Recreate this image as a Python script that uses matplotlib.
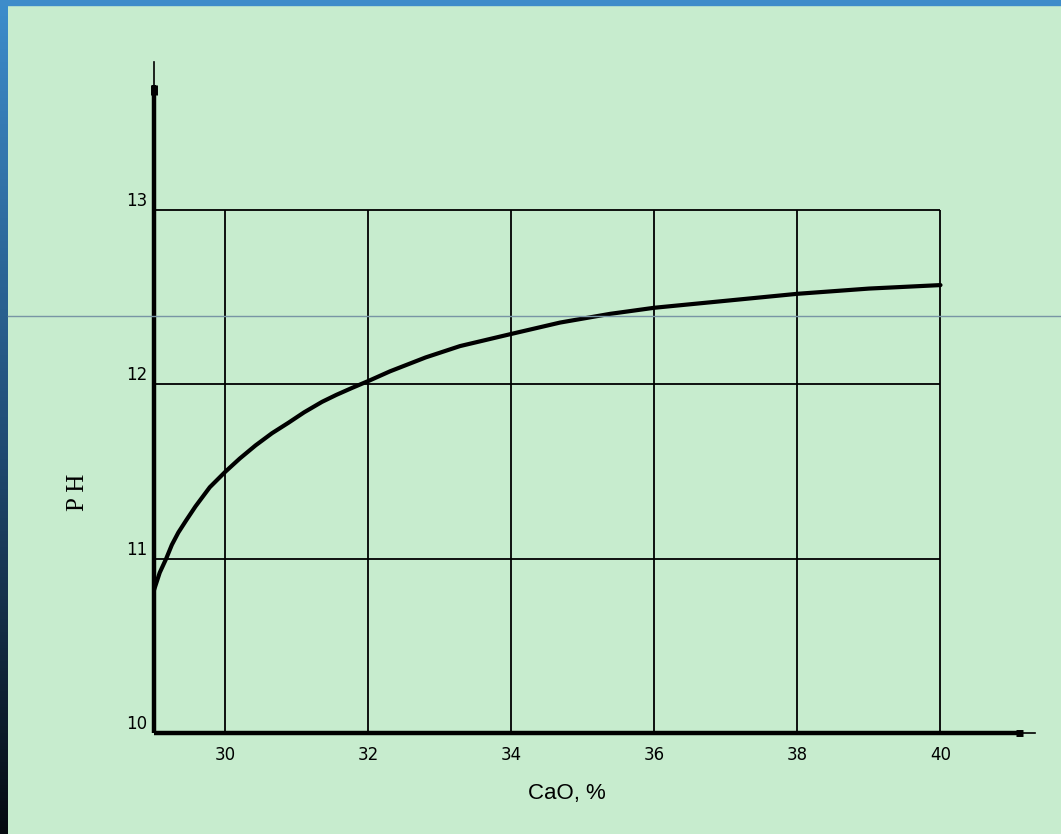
import numpy as np
import matplotlib.pyplot as plt
from matplotlib.lines import Line2D
from matplotlib.patches import Rectangle
from matplotlib.colors import LinearSegmentedColormap

# data
cao = [29.0, 29.08, 29.17, 29.25, 29.34, 29.45, 29.58, 29.78, 30.0, 30.2, 30.42, 30.65,
       30.88, 31.1, 31.35, 31.55, 31.77, 32.0, 32.3, 32.8, 33.28, 34.0, 34.68, 35.38,
       36.0, 37.0, 38.0, 39.0, 40.0]
ph = [10.82, 10.92, 11.0, 11.08, 11.15, 11.22, 11.3, 11.41, 11.5, 11.575, 11.65, 11.72,
      11.78, 11.84, 11.9, 11.94, 11.98, 12.02, 12.075, 12.155, 12.22, 12.29, 12.355, 12.405,
      12.44, 12.48, 12.52, 12.55, 12.57]

x_ticks = [30, 32, 34, 36, 38, 40]
y_ticks = [10, 11, 12, 13]

bg = '#c7ecce'

fig = plt.figure(figsize=(10.61, 8.34), dpi=100, facecolor=bg)

# left and top blue frame strips
strip = fig.add_axes([0, 0, 8 / 1061, 1])
grad = np.linspace(0, 1, 256).reshape(-1, 1)
cmap = LinearSegmentedColormap.from_list('edge', ['#3d8dcc', '#22507a', '#050a10'])
strip.imshow(grad, aspect='auto', cmap=cmap, extent=[0, 1, 0, 1], origin='upper')
strip.axis('off')
fig.patches.append(Rectangle((0, 1 - 5 / 834), 1, 5 / 834, transform=fig.transFigure,
                             color='#3e8cca', zorder=5))

# thin horizontal line across the slide
fig.add_artist(Line2D([8 / 1061, 1], [1 - 316 / 834, 1 - 316 / 834], color='#7895a5', lw=1.0))

ax = fig.add_axes([154 / 1061, 101 / 834, 883 / 1061, 671 / 834])
ax.set_facecolor('none')
ax.set_xlim(29, 41.35)
ax.set_ylim(10, 13.85)
for s in ax.spines.values():
    s.set_visible(False)

# grid limited to the 10..13 / 29..40 box
ax.vlines(x_ticks, 10, 13, color='black', lw=1.3)
ax.hlines(y_ticks[1:], 29, 40, color='black', lw=1.3)

# axes with arrows
ax.plot([29, 41.15], [10, 10], color='black', lw=3.2, clip_on=False, solid_capstyle='butt')
ax.plot([29, 29], [10, 13.72], color='black', lw=3.2, clip_on=False, solid_capstyle='butt')
ax.plot([41.05, 41.15], [10, 10], color='black', lw=5, clip_on=False, solid_capstyle='butt')
ax.plot([29, 29], [13.66, 13.72], color='black', lw=5, clip_on=False, solid_capstyle='butt')
ax.plot([41.15, 41.32], [10, 10], color='black', lw=1.2, clip_on=False)
ax.plot([29, 29], [13.72, 13.85], color='black', lw=1.2, clip_on=False)

# curve
ax.plot(cao, ph, color='black', lw=3.0, solid_capstyle='round', solid_joinstyle='round')

ax.set_xticks(x_ticks)
ax.set_xticklabels([str(v) for v in x_ticks], fontsize=12, family='DejaVu Sans')
ax.set_yticks(y_ticks)
ax.set_yticklabels([str(v) for v in y_ticks], fontsize=12, family='DejaVu Sans')
ax.tick_params(axis='x', length=0, pad=9)
ax.tick_params(axis='y', length=0, pad=5)
for lab in ax.get_yticklabels():
    lab.set_va('bottom')

fig.text(567 / 1061, 1 - 793 / 834, 'CaO, %', fontsize=16, family='Liberation Sans',
         ha='center', va='center')
fig.text(78 / 1061, 1 - 492 / 834, 'P H', fontsize=18, family='Liberation Serif',
         rotation=90, ha='center', va='center')

fig.savefig('out.png', dpi=100, facecolor=bg)
